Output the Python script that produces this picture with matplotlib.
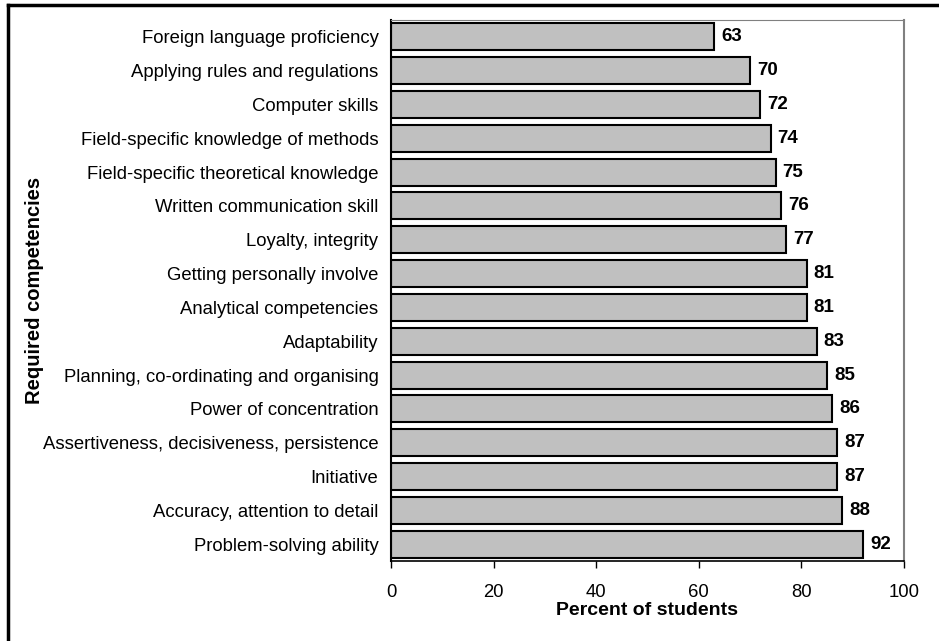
import matplotlib.pyplot as plt
from matplotlib.lines import Line2D

plt.rcParams["font.family"] = ["Liberation Sans", "DejaVu Sans"]

competencies = [
    "Foreign language proficiency",
    "Applying rules and regulations",
    "Computer skills",
    "Field-specific knowledge of methods",
    "Field-specific theoretical knowledge",
    "Written communication skill",
    "Loyalty, integrity",
    "Getting personally involve",
    "Analytical competencies",
    "Adaptability",
    "Planning, co-ordinating and organising",
    "Power of concentration",
    "Assertiveness, decisiveness, persistence",
    "Initiative",
    "Accuracy, attention to detail",
    "Problem-solving ability",
]
percent = [63, 70, 72, 74, 75, 76, 77, 81, 81, 83, 85, 86, 87, 87, 88, 92]
x_ticks = [0, 20, 40, 60, 80, 100]

fig = plt.figure(figsize=(9.39, 6.41), dpi=100)
ax = fig.add_axes([391 / 939, 1 - 561 / 641, (904 - 391) / 939, (561 - 20) / 641])

ypos = list(range(len(competencies)))
ax.barh(ypos, percent, height=0.8, color="#c0c0c0", edgecolor="black", linewidth=1.5)
ax.set_ylim(len(competencies) - 0.5, -0.5)
ax.set_xlim(0, 100)

for y, v in zip(ypos, percent):
    ax.annotate(f"{v}", (v, y), xytext=(5, 0), textcoords="offset points",
                ha="left", va="center", fontsize=13.5, fontweight="bold")

ax.set_yticks(ypos)
ax.set_yticklabels(competencies, fontsize=13.3)
ax.tick_params(axis="y", length=0, pad=9)
ax.set_xticks(x_ticks)
ax.set_xticklabels([str(t) for t in x_ticks], fontsize=13.3)
ax.tick_params(axis="x", direction="out", length=5, width=1, pad=11.5)

ax.set_xlabel("Percent of students", fontsize=14, fontweight="bold", labelpad=1)
ax.set_ylabel("Required competencies", fontsize=14.5, fontweight="bold")
ax.yaxis.set_label_coords(-0.676, 0.5)

ax.spines["left"].set_color("black")
ax.spines["left"].set_linewidth(1.5)
ax.spines["bottom"].set_color("black")
ax.spines["bottom"].set_linewidth(1.2)
ax.spines["top"].set_color("#808080")
ax.spines["right"].set_color("#808080")
ax.spines["right"].set_linewidth(1.5)

# outer frame (only left and top edges visible in the crop)
fig.add_artist(Line2D([8 / 939, 8 / 939], [0, 1 - 5 / 641], transform=fig.transFigure,
                      color="black", linewidth=2.5))
fig.add_artist(Line2D([8 / 939, 1], [1 - 5 / 641, 1 - 5 / 641], transform=fig.transFigure,
                      color="black", linewidth=2.5))

fig.savefig("out.png", dpi=100)
